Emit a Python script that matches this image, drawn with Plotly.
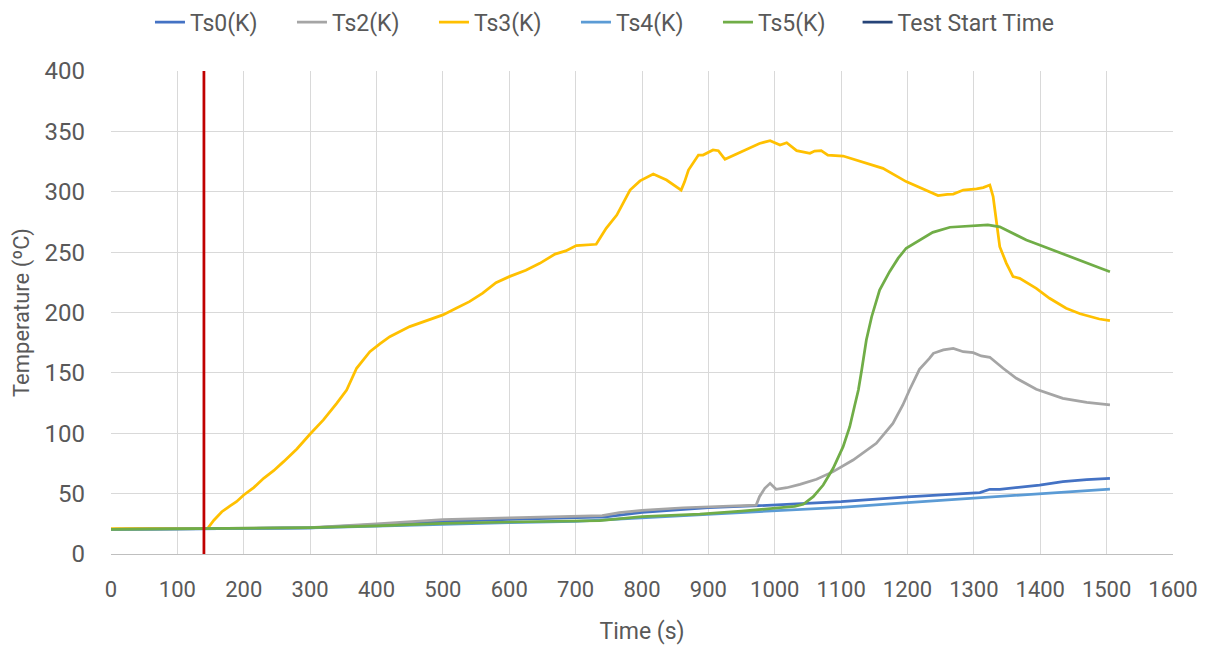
import plotly.graph_objects as go

# ---- data ----
ts0_t = [0, 300, 400, 500, 600, 700, 745, 800, 900, 975, 1000, 1100, 1200, 1233, 1299, 1309, 1324, 1339, 1399, 1434, 1470, 1505]
ts0_v = [20.4, 21.6, 24.3, 26.8, 28.6, 30, 30.8, 34.5, 38.3, 40, 40.6, 43.3, 47.3, 48.3, 49.9, 50.8, 53.6, 53.6, 57.1, 59.9, 61.5, 62.7]

ts2_t = [0, 300, 400, 500, 600, 700, 740, 766, 800, 862, 900, 972, 977, 985, 993, 1002, 1018, 1038, 1063, 1088, 1118, 1153, 1178, 1193, 1203, 1218, 1233, 1239, 1254, 1269, 1284, 1299, 1311, 1324, 1344, 1364, 1394, 1434, 1470, 1505]
ts2_v = [20.4, 21.8, 25, 28.5, 30, 31.2, 31.8, 34.2, 36.2, 38.3, 39.2, 40.5, 47.5, 54.4, 58.5, 53.6, 54.9, 57.7, 61.9, 68.2, 77.8, 91.7, 108.2, 123.4, 135.8, 152.9, 162, 166.2, 169, 170.3, 167.5, 166.7, 164, 162.9, 153.8, 145.5, 136.4, 128.9, 125.5, 123.4]

ts3_t = [0, 140, 146, 155, 167, 180, 189, 200, 215, 230, 245, 260, 280, 300, 320, 340, 355, 370, 380, 390, 405, 420, 450, 475, 500, 520, 540, 560, 580, 600, 625, 646, 669, 685, 701, 731, 746, 762, 782, 797, 817, 837, 859, 864, 870, 885, 892, 907, 915, 925, 937, 957, 977, 993, 1008, 1018, 1033, 1053, 1060, 1070, 1080, 1103, 1138, 1163, 1198, 1223, 1246, 1260, 1269, 1284, 1304, 1314, 1324, 1329, 1334, 1339, 1349, 1359, 1369, 1394, 1414, 1439, 1460, 1489, 1505]
ts3_v = [21, 21, 21.5, 28, 35, 40, 43.3, 48.9, 55, 62.7, 69, 76.5, 87, 99.4, 111, 124.8, 135.8, 153.8, 161, 167.5, 174, 180, 188.3, 193, 198, 203.5, 209, 216, 224.7, 229.7, 235, 240.7, 248.4, 251, 255.4, 256.5, 269.7, 280.7, 301.4, 309, 314.7, 309.7, 301.4, 308, 318, 330.4, 330.4, 334.6, 334, 326.9, 329.9, 335, 340, 342.3, 338.7, 340.6, 334, 331.8, 333.7, 334, 330.4, 329.6, 324, 319.4, 308.4, 302, 296.8, 297.9, 298.1, 301.4, 302.3, 303.4, 305.6, 296, 273.9, 254.5, 240.7, 229.7, 228.3, 220, 211.8, 203.5, 199, 194.6, 193.2]

ts4_t = [0, 300, 400, 500, 600, 700, 800, 900, 1000, 1100, 1200, 1300, 1400, 1505]
ts4_v = [20.4, 21.6, 23, 24.8, 26, 27, 30, 33, 35.9, 38.7, 42.5, 46.1, 50, 53.8]

ts5_t = [0, 300, 400, 500, 600, 700, 736, 800, 887, 950, 997, 1030, 1043, 1058, 1073, 1088, 1103, 1113, 1120, 1126, 1131, 1138, 1146, 1158, 1173, 1186, 1198, 1218, 1238, 1264, 1289, 1321, 1339, 1354, 1379, 1399, 1429, 1469, 1489, 1505]
ts5_v = [20.4, 21.8, 23.2, 25.4, 26.5, 27.6, 27.6, 30.9, 33.1, 35.5, 37.5, 39.5, 41.2, 47.5, 57.1, 71, 88.9, 105.4, 122, 135.8, 152.4, 177.2, 196.5, 218.6, 233.8, 245, 253.2, 260, 266.4, 270.6, 271.6, 272.5, 271, 266.9, 260, 255.9, 249.5, 240.7, 237.1, 233.8]

start_time = 140
y_range = [0, 400]
x_ticks = list(range(0, 1700, 100))
y_ticks = list(range(0, 450, 50))

series = [
    ("Ts0(K)", ts0_t, ts0_v, "#4472C4"),
    ("Ts2(K)", ts2_t, ts2_v, "#A5A5A5"),
    ("Ts3(K)", ts3_t, ts3_v, "#FFC000"),
    ("Ts4(K)", ts4_t, ts4_v, "#5B9BD5"),
    ("Ts5(K)", ts5_t, ts5_v, "#70AD47"),
]

fig = go.Figure()
for name, t, v, c in series:
    fig.add_trace(go.Scatter(x=t, y=v, mode="lines", name=name,
                             line=dict(color=c, width=2.75)))

# legend entry for the start-time marker
fig.add_trace(go.Scatter(x=[None], y=[None], mode="lines", name="Test Start Time",
                         legend="legend2",
                         line=dict(color="#264478", width=2.75)))
# the drawn start-time line
fig.add_trace(go.Scatter(x=[start_time, start_time], y=y_range, mode="lines",
                         showlegend=False, hoverinfo="skip",
                         line=dict(color="#C00000", width=2.75)))

fam = "Roboto, sans-serif"
grey = "#595959"
fig.update_layout(
    width=1208, height=638,
    margin=dict(l=103, r=43, t=63, b=92, autoexpand=False),
    paper_bgcolor="white", plot_bgcolor="white",
    font=dict(family=fam, color=grey),
    legend=dict(orientation="h", x=0.0367, xanchor="left", y=1.101, yanchor="middle",
                font=dict(family=fam, size=23, color=grey),
                itemwidth=30, traceorder="normal",
                entrywidth=97, entrywidthmode="pixels"),
    legend2=dict(orientation="h", x=0.703, xanchor="left", y=1.101, yanchor="middle",
                 font=dict(family=fam, size=23, color=grey), itemwidth=30),
    showlegend=True,
)
fig.update_xaxes(range=[0, 1600], tickvals=x_ticks, showgrid=True, gridcolor="#D9D9D9",
                 gridwidth=1, zeroline=False, showline=True, linecolor="#BFBFBF", linewidth=1,
                 ticks="", tickfont=dict(family=fam, size=22, color=grey),
                 ticklabelstandoff=16,
                 title=dict(text="Time (s)", font=dict(family=fam, size=23, color=grey), standoff=21))
fig.update_yaxes(range=y_range, tickvals=y_ticks, showgrid=True, gridcolor="#D9D9D9",
                 gridwidth=1, zeroline=False, showline=False, ticks="",
                 tickfont=dict(family=fam, size=24, color=grey),
                 ticklabelstandoff=25,
                 title=dict(text="Temperature (ºC)", font=dict(family=fam, size=22, color=grey), standoff=8))

fig.write_html("out.html")
